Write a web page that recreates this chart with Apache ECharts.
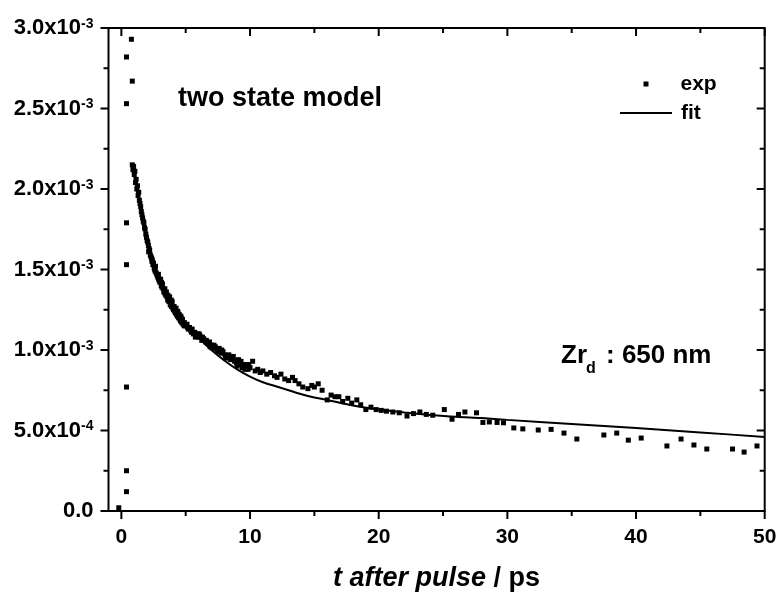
<!DOCTYPE html>
<html>
<head>
<meta charset="utf-8">
<script src="https://cdn.jsdelivr.net/npm/echarts@6/dist/echarts.min.js"></script>
<style>
html,body{margin:0;padding:0;background:#fff;}
#chart{width:781px;height:597px;}
</style>
</head>
<body>
<div id="chart"></div>
<script>
// Experimental points: [t (ps), signal (x10^-3)]
const expData = [
  [-0.2, 0.02], [0.4, 0.12], [0.4, 0.25], [0.4, 0.77], [0.4, 1.53], [0.4, 1.79],
  [0.4, 2.53], [0.4, 2.82], [0.78, 2.93], [0.85, 2.67],
  [0.85, 2.15], [0.90, 2.12], [0.95, 2.14], [1.00, 2.09], [1.05, 2.11], [1.10, 2.04],
  [1.15, 2.06], [1.20, 2.00], [1.25, 2.02], [1.30, 1.96], [1.35, 1.98], [1.40, 1.93],
  [1.45, 1.91], [1.50, 1.89], [1.55, 1.86], [1.60, 1.84], [1.65, 1.82], [1.70, 1.80],
  [1.75, 1.79], [1.80, 1.76], [1.85, 1.75], [1.90, 1.72], [1.95, 1.70], [2.00, 1.68],
  [2.05, 1.67], [2.10, 1.65], [2.15, 1.63], [2.20, 1.62], [2.25, 1.59], [2.30, 1.58],
  [2.35, 1.57], [2.40, 1.56], [2.45, 1.53], [2.50, 1.54], [2.55, 1.51], [2.60, 1.50],
  [2.65, 1.52], [2.70, 1.48], [2.75, 1.47], [2.80, 1.46], [2.85, 1.45], [2.90, 1.44],
  [2.95, 1.43], [3.00, 1.42], [3.05, 1.44], [3.10, 1.40], [3.15, 1.39], [3.20, 1.41],
  [3.25, 1.38], [3.30, 1.36], [3.35, 1.37], [3.40, 1.35], [3.45, 1.34], [3.50, 1.36],
  [3.55, 1.33], [3.60, 1.31], [3.65, 1.32], [3.70, 1.30], [3.75, 1.33], [3.80, 1.28],
  [3.85, 1.29], [3.90, 1.27], [3.95, 1.30], [4.00, 1.26], [4.05, 1.25], [4.10, 1.27],
  [4.15, 1.24], [4.20, 1.23], [4.25, 1.26], [4.30, 1.22], [4.35, 1.21], [4.40, 1.23],
  [4.45, 1.20], [4.50, 1.22], [4.55, 1.19], [4.60, 1.18], [4.65, 1.20], [4.70, 1.17],
  [4.75, 1.19], [4.80, 1.16], [4.90, 1.17], [5.00, 1.15], [5.10, 1.16], [5.20, 1.13],
  [5.30, 1.14], [5.40, 1.12], [5.50, 1.13], [5.60, 1.10], [5.70, 1.11], [5.80, 1.09],
  [5.90, 1.10], [6.00, 1.08], [6.10, 1.09], [6.25, 1.06], [6.40, 1.07], [6.55, 1.05],
  [6.70, 1.04], [6.85, 1.05], [7.00, 1.03], [7.15, 1.01], [7.30, 1.02], [7.45, 1.00],
  [7.60, 1.01], [7.75, 0.98], [7.90, 0.99], [8.05, 0.97], [8.20, 0.96], [8.35, 0.97],
  [8.50, 0.94], [8.65, 0.95], [8.80, 0.93], [8.95, 0.92], [9.10, 0.94], [9.25, 0.91],
  [9.40, 0.89], [9.55, 0.91], [9.70, 0.90], [9.85, 0.88], [10.0, 0.89], [10.2, 0.93],
  [2.12, 1.61], [2.38, 1.55], [2.62, 1.49], [2.88, 1.47], [3.12, 1.42], [3.38, 1.38],
  [3.62, 1.34], [3.88, 1.31], [4.12, 1.25], [4.38, 1.24], [4.62, 1.21], [4.88, 1.15],
  [5.15, 1.14], [5.45, 1.11], [5.75, 1.08], [6.05, 1.10], [6.30, 1.08], [6.60, 1.06],
  [6.90, 1.02], [7.20, 1.03], [7.50, 0.99], [7.80, 1.00], [8.10, 0.95], [8.40, 0.95],
  [8.70, 0.96], [9.00, 0.90], [9.30, 0.93], [9.60, 0.88], [9.90, 0.91],
  [10.4, 0.87], [10.6, 0.88], [10.8, 0.86], [11.0, 0.87], [11.3, 0.85], [11.6, 0.86],
  [11.9, 0.84], [12.1, 0.83], [12.4, 0.85], [12.7, 0.82], [13.0, 0.81], [13.3, 0.83],
  [13.5, 0.81], [13.8, 0.79], [14.1, 0.77], [14.5, 0.76], [14.8, 0.78], [15.0, 0.77],
  [15.3, 0.79], [15.6, 0.75], [16.0, 0.69], [16.3, 0.72], [16.6, 0.71], [16.9, 0.71],
  [17.2, 0.68], [17.6, 0.70], [17.9, 0.67], [18.3, 0.69], [18.6, 0.66], [19.0, 0.63],
  [19.4, 0.645], [19.8, 0.63], [20.2, 0.625], [20.6, 0.62], [21.1, 0.615], [21.6, 0.61],
  [22.2, 0.59], [22.7, 0.605], [23.2, 0.615], [23.7, 0.60], [24.2, 0.595], [25.1, 0.63],
  [25.7, 0.57], [26.2, 0.60], [26.7, 0.615], [27.6, 0.61], [28.1, 0.55], [28.6, 0.553],
  [29.2, 0.55], [29.7, 0.548], [30.5, 0.516], [31.2, 0.51], [32.4, 0.503], [33.4, 0.507],
  [34.4, 0.484], [35.4, 0.447], [37.5, 0.472], [38.5, 0.484], [39.4, 0.44], [40.4, 0.453],
  [42.4, 0.404], [43.5, 0.447], [44.5, 0.41], [45.5, 0.385], [47.5, 0.385], [48.4, 0.366],
  [49.4, 0.404]
];

// Fit curve: [t (ps), signal (x10^-3)]
const fitData = [
  [0.85, 2.14], [1.0, 2.08], [1.2, 1.99], [1.4, 1.91], [1.6, 1.83], [1.8, 1.76],
  [2.0, 1.69], [2.5, 1.545], [3.0, 1.43], [3.5, 1.34], [4.0, 1.265], [4.5, 1.20],
  [5.0, 1.15], [6.0, 1.075], [7.0, 1.0], [8.0, 0.935], [9.0, 0.88], [10, 0.835],
  [11, 0.80], [12, 0.775], [13, 0.75], [14, 0.725], [15, 0.705], [16, 0.69],
  [18, 0.655], [20, 0.63], [22, 0.612], [24, 0.597], [26, 0.585], [28, 0.577],
  [30, 0.566], [35, 0.541], [40, 0.515], [45, 0.488], [50, 0.46]
];

const xMajorTicks = [0, 10, 20, 30, 40, 50];
const xMinorTicks = [5, 15, 25, 35, 45];
const yMajorTicks = [0, 0.5, 1.0, 1.5, 2.0, 2.5, 3.0];
const yMinorTicks = [0.25, 0.75, 1.25, 1.75, 2.25, 2.75];
const seriesNames = ['exp', 'fit'];
const xTitleItalic = 't after pulse';
const xTitleRest = ' / ps';
const annotation1 = 'two state model';
const annotationMain = 'Zr';
const annotationSub = 'd';
const annotationRest = ': 650 nm';

const FONT = '"Liberation Sans", Arial, Helvetica, sans-serif';
const black = '#000';
const X_MIN = -1, X_MAX = 50, Y_MIN = 0, Y_MAX = 3;

function yLabel(v) {
  if (Math.abs(v) < 1e-12) return '{a|0.0}';
  const real = v * 1e-3;
  const e = Math.floor(Math.log10(real) + 1e-9);
  const m = real / Math.pow(10, e);
  return '{a|' + m.toFixed(1) + 'x10}{b|' + e + '}';
}

// tick items: [x, y, kind]  kind 0: x major, 1: x minor, 2: y major, 3: y minor
const tickItems = []
  .concat(xMajorTicks.map(v => [v, Y_MIN, 0]))
  .concat(xMinorTicks.map(v => [v, Y_MIN, 1]))
  .concat(yMajorTicks.map(v => [X_MIN, v, 2]))
  .concat(yMinorTicks.map(v => [X_MIN, v, 3]));

function renderTick(params, api) {
  const cs = params.coordSys;
  const kind = api.value(2);
  const p = api.coord([api.value(0), api.value(1)]);
  const len = (kind === 0 || kind === 2) ? 8 : 5;
  const st = { stroke: black, lineWidth: 2 };
  const bottom = cs.y + cs.height, top = cs.y, left = cs.x, right = cs.x + cs.width;
  if (kind <= 1) {
    const x = p[0];
    return { type: 'group', children: [
      { type: 'line', shape: { x1: x, y1: bottom, x2: x, y2: bottom + len }, style: st },
      { type: 'line', shape: { x1: x, y1: top, x2: x, y2: top + len }, style: st }
    ] };
  }
  const y = p[1];
  return { type: 'group', children: [
    { type: 'line', shape: { x1: left - len, y1: y, x2: left, y2: y }, style: st },
    { type: 'line', shape: { x1: right - len, y1: y, x2: right, y2: y }, style: st }
  ] };
}

const noLine = { show: false, onZero: false };

const chart = echarts.init(document.getElementById('chart'));
chart.setOption({
  animation: false,
  backgroundColor: '#fff',
  grid: {
    show: true, borderColor: black, borderWidth: 2, backgroundColor: 'transparent',
    left: 108.5, right: 16.3, top: 28, bottom: 86, containLabel: false, outerBoundsMode: 'none'
  },
  legend: [
    {
      data: [{ name: seriesNames[0], icon: 'rect' }],
      left: 643.5, top: 73.5, padding: 0,
      itemWidth: 5, itemHeight: 5,
      selectedMode: false,
      itemStyle: { color: black, opacity: 1 },
      textStyle: { fontFamily: FONT, fontSize: 21, fontWeight: 'bold', color: black, padding: [0, 0, 0, 27] }
    },
    {
      data: [{ name: seriesNames[1], icon: 'rect' }],
      left: 620, top: 102.5, padding: 0,
      itemWidth: 52, itemHeight: 2,
      selectedMode: false,
      itemStyle: { color: black, opacity: 1 },
      textStyle: { fontFamily: FONT, fontSize: 21, fontWeight: 'bold', color: black, padding: [0, 0, 0, 4] }
    }
  ],
  xAxis: [
    {
      type: 'value', min: X_MIN, max: X_MAX, position: 'bottom',
      axisLine: noLine,
      axisTick: { show: false },
      axisLabel: { show: true, customValues: xMajorTicks, margin: 16, fontFamily: FONT, fontSize: 21, fontWeight: 'bold', color: black },
      splitLine: { show: false },
      name: '{i|' + xTitleItalic + '}' + xTitleRest,
      nameLocation: 'middle', nameGap: 54,
      nameTextStyle: {
        fontFamily: FONT, fontSize: 27, fontWeight: 'bold', color: black,
        rich: { i: { fontFamily: FONT, fontSize: 27, fontWeight: 'bold', fontStyle: 'italic', color: black } }
      }
    }
  ],
  yAxis: [
    {
      type: 'value', min: Y_MIN, max: Y_MAX, interval: 0.5, position: 'left',
      axisLine: noLine,
      axisTick: { show: false },
      axisLabel: {
        show: true, margin: 15, formatter: yLabel,
        rich: {
          a: { fontFamily: FONT, fontSize: 22, fontWeight: 'bold', color: black, lineHeight: 22 },
          b: { fontFamily: FONT, fontSize: 14, fontWeight: 'bold', color: black, lineHeight: 12, verticalAlign: 'top' }
        }
      },
      splitLine: { show: false }
    }
  ],
  series: [
    {
      name: seriesNames[0], type: 'scatter',
      symbol: 'rect', symbolSize: 5,
      itemStyle: { color: black, opacity: 1 },
      data: expData, z: 3
    },
    {
      name: seriesNames[1], type: 'line',
      symbol: 'none', showSymbol: false, smooth: 0.3,
      lineStyle: { color: black, width: 2 },
      itemStyle: { color: black },
      data: fitData, z: 2
    },
    {
      name: 'ticks', type: 'custom',
      renderItem: renderTick, clip: false, silent: true,
      data: tickItems, z: 5
    }
  ],
  graphic: [
    { type: 'text', left: 178, top: 85, style: { text: annotation1, font: 'bold 27px ' + FONT, fill: black } },
    { type: 'text', x: 561, y: 356, style: { text: annotationMain, font: 'bold 26px ' + FONT, fill: black, verticalAlign: 'middle' } },
    { type: 'text', x: 586, y: 369, style: { text: annotationSub, font: 'bold 16px ' + FONT, fill: black, verticalAlign: 'middle' } },
    { type: 'text', x: 606, y: 356, style: { text: annotationRest, font: 'bold 26px ' + FONT, fill: black, verticalAlign: 'middle' } }
  ]
});
</script>
</body>
</html>
